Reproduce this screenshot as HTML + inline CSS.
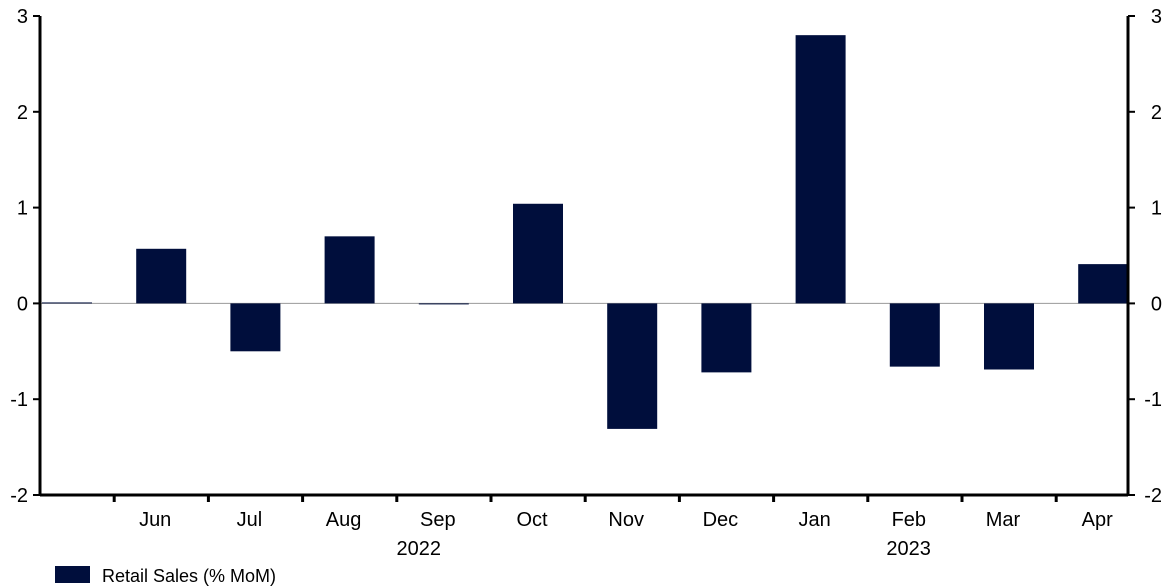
<!DOCTYPE html>
<html><head><meta charset="utf-8"><style>
body{margin:0;background:#fff;}
svg{display:block;font-family:"Liberation Sans",sans-serif;}
</style></head><body>
<svg width="1172" height="587">
<g id="plot"></g>
</svg>
<script>
const months=["May","Jun","Jul","Aug","Sep","Oct","Nov","Dec","Jan","Feb","Mar","Apr"];
const values=[0.01,0.57,-0.5,0.7,-0.01,1.04,-1.31,-0.72,2.8,-0.66,-0.69,0.41];
const yTicks=[3,2,1,0,-1,-2];
const years=[{label:"2022",at:4},{label:"2023",at:9.2}];
const L=40,R=1128,yTop=16,yBot=495,vMin=-2,vMax=3;
const y=v=>yBot-(v-vMin)/(vMax-vMin)*(yBot-yTop);
const x=i=>67+i*94.2;
const NS="http://www.w3.org/2000/svg";
const g=document.getElementById('plot');
function mk(t,a){const e=document.createElementNS(NS,t);for(const k in a)e.setAttribute(k,a[k]);g.appendChild(e);return e;}
// zero line
let z=mk('line',{x1:L,x2:R,y1:y(0),y2:y(0),stroke:'#999','stroke-width':1});


values.forEach((v,i)=>{
  const top=Math.min(y(v),y(0)),h=Math.max(Math.abs(y(v)-y(0)),1);
  const b=mk('rect',{x:x(i)-25,y:top,width:50,height:h,fill:'#000e3c'});
  
  
  const t=mk('text',{x:x(i)-6,y:526,'font-size':20,'text-anchor':'middle',fill:'#000'});
  t.textContent=i===0?'':months[i];
  
  
  if(i>0){const tk=mk('line',{x1:x(i)-47,x2:x(i)-47,y1:495,y2:502,stroke:'#000','stroke-width':3});
  
  }
});
years.forEach(yr=>{
  const t=mk('text',{x:x(yr.at)-25,y:555,'font-size':20,'text-anchor':'middle'});
  t.textContent=yr.label;
  
  
});
yTicks.forEach(v=>{
  const a=mk('line',{x1:L-7,x2:L,y1:y(v),y2:y(v),stroke:'#000','stroke-width':2});
  
  
  const b=mk('line',{x1:R,x2:R+7,y1:y(v),y2:y(v),stroke:'#000','stroke-width':2});
  
  
  const t1=mk('text',{x:28,y:y(v)+7,'font-size':20,'text-anchor':'end'});
  t1.textContent=v;
  
  
  const t2=mk('text',{x:1162,y:y(v)+7,'font-size':20,'text-anchor':'end'});
  t2.textContent=v;
  
  
});
const al=mk('line',{x1:L,x2:L,y1:yTop,y2:yBot+1,stroke:'#000','stroke-width':3});


const ar=mk('line',{x1:R,x2:R,y1:yTop,y2:yBot+1,stroke:'#000','stroke-width':3});


const ax=mk('line',{x1:L,x2:R,y1:yBot,y2:yBot,stroke:'#000','stroke-width':3});


const sw=mk('rect',{x:55,y:566,width:35,height:17,fill:'#000e3c'});


const lt=mk('text',{x:102,y:582,'font-size':18});
lt.textContent='Retail Sales (% MoM)';


</script>
</body></html>
